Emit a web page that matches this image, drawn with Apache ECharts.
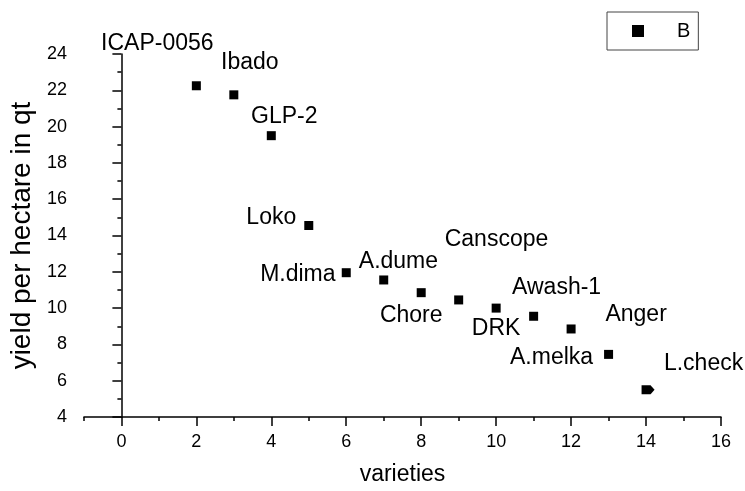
<!DOCTYPE html>
<html><head><meta charset="utf-8">
<script src="https://cdn.jsdelivr.net/npm/echarts@6/dist/echarts.min.js"></script>
<style>html,body{margin:0;padding:0;background:#fff}#c{width:745px;height:491px}</style>
</head><body><div id="c"></div>
<script>
// ---- data ----
const varieties = ['ICAP-0056','Ibado','GLP-2','Loko','M.dima','A.dume','Chore','Canscope','DRK','Awash-1','Anger','A.melka','L.check'];
const xValues = [2,3,4,5,6,7,8,9,10,11,12,13,14];
const yieldValues = [22.25,21.75,19.5,14.55,11.95,11.55,10.85,10.45,10.0,9.55,8.85,7.45,5.5];
const xMajorTicks = [0,2,4,6,8,10,12,14,16];
const xMinorTicks = [-1,1,3,5,7,9,11,13,15];
const seriesName = 'B';
const xTitle = 'varieties';
const yTitle = 'yield per hectare in qt';

// ---- styles (label offsets in px from each marker) ----
const labelOffsets = [[-39,-42],[16,-32],[13,-19],[-37.5,-8],[-48.4,1.5],[14.7,-18.5],[-10,22.5],[37.8,-60],[0,21],[23,-28.5],[65,-14],[-57,3.5],[55.5,-26]];
const arrowSymbol = 'path://M0,0L9,0L13,4.5L9,9L0,9Z';
const FONT = "'Liberation Sans', Arial, sans-serif";

const points = xValues.map((x, i) => {
  const item = {
    name: varieties[i],
    value: [x, yieldValues[i]],
    label: { offset: labelOffsets[i] }
  };
  if (i === xValues.length - 1) {
    item.symbol = arrowSymbol;
    item.symbolSize = [13, 9];
    item.symbolOffset = [2, 0];
  }
  return item;
});

const chart = echarts.init(document.getElementById('c'), null, {renderer: 'canvas'});
const axisLine = { show: true, lineStyle: { color: '#000', width: 1.5 } };
chart.setOption({
  animation: false,
  backgroundColor: '#fff',
  textStyle: { fontFamily: FONT },
  grid: { left: 83, right: 24, top: 54, bottom: 70, containLabel: false },
  legend: {
    data: [seriesName],
    left: 607, top: 12,
    borderColor: '#444', borderWidth: 1,
    padding: [9, 8, 9, 25],
    itemWidth: 12, itemHeight: 12,
    icon: 'rect',
    itemStyle: { color: '#000', opacity: 1 },
    textStyle: { fontSize: 20, color: '#000', fontFamily: FONT, padding: [0, 0, 0, 28] }
  },
  xAxis: [{
    type: 'value', min: -1, max: 16,
    axisLine: axisLine,
    axisTick: { show: true, customValues: xMajorTicks, length: 9, lineStyle: { color: '#000', width: 1.5 } },
    axisLabel: { show: true, customValues: xMajorTicks, fontSize: 18, color: '#000', margin: 16, fontFamily: FONT },
    splitLine: { show: false },
    name: xTitle, nameLocation: 'middle', nameGap: 46,
    nameTextStyle: { fontSize: 23, color: '#000', fontFamily: FONT }
  }, {
    type: 'value', min: -1, max: 16, position: 'bottom',
    axisLine: { show: false },
    axisTick: { show: true, customValues: xMinorTicks, length: 4, lineStyle: { color: '#000', width: 1.5 } },
    axisLabel: { show: false },
    splitLine: { show: false }
  }],
  yAxis: {
    type: 'value', min: 4, max: 24, interval: 2,
    axisLine: axisLine,
    axisTick: { show: true, length: 9, lineStyle: { color: '#000', width: 1.5 } },
    minorTick: { show: true, splitNumber: 2, length: 4, lineStyle: { color: '#000', width: 1.5 } },
    axisLabel: { fontSize: 18, color: '#000', margin: 17, fontFamily: FONT },
    splitLine: { show: false },
    minorSplitLine: { show: false },
    name: yTitle, nameLocation: 'middle', nameGap: 47, nameRotate: 90,
    nameTextStyle: { fontSize: 28, color: '#000', fontFamily: FONT }
  },
  series: [{
    name: seriesName,
    type: 'scatter',
    symbol: 'rect',
    symbolSize: 9,
    itemStyle: { color: '#000', opacity: 1 },
    label: {
      show: true, position: 'inside', formatter: '{b}',
      fontSize: 23, color: '#000', fontFamily: FONT,
      align: 'center', verticalAlign: 'middle'
    },
    data: points
  }]
});
</script></body></html>
